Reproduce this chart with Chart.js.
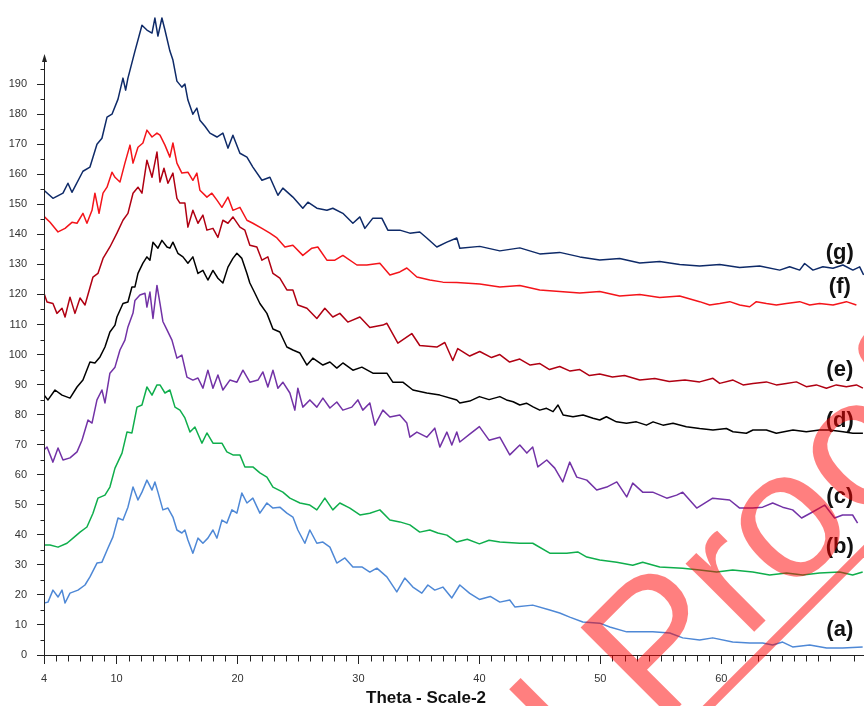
<!DOCTYPE html>
<html><head><meta charset="utf-8">
<script src="https://cdn.jsdelivr.net/npm/chart.js@4.4.1/dist/chart.umd.min.js"></script>
<style>html,body{margin:0;padding:0;background:#fff;overflow:hidden}canvas{display:block}</style>
</head><body>
<canvas id="c" width="864" height="706"></canvas>
<script>
// ---- data (2-theta, counts) ----
const thetaG = [4.0,4.74,5.57,5.98,6.31,7.22,7.80,8.38,8.79,9.21,9.62,10.12,10.53,10.75,10.94,11.52,12.10,12.51,12.93,13.17,13.42,13.75,14.0,14.41,14.66,14.99,15.40,15.65,15.90,16.31,16.64,16.89,17.31,17.72,18.30,18.79,19.21,19.62,20.20,20.78,21.27,22.02,22.68,23.34,23.75,24.58,25.40,25.82,26.56,27.39,27.88,28.71,29.54,30.12,30.53,31.19,31.93,32.43,33.42,34.25,35.07,35.65,36.48,37.31,38.13,38.38,40.03,41.69,43.34,44.99,46.64,48.3,49.95,51.6,53.26,54.91,56.56,58.21,59.87,61.52,63.17,64.83,65.65,66.48,66.89,67.58,68.4,69.23,70.06,70.88,71.44,71.77];
const countsG = [154.7,152,153.7,157,154,161,162.4,170,172,179,180,185,192,188,192,201,209.6,208,207,212,206,212,208,201,198,191,189,190,184.7,180,182,178,176,173.7,172.4,173.7,168.7,173,167,165.7,162.4,158,159,153,155.4,152.4,148.7,150.7,148.7,148,148.7,147,143.7,145.8,142,145.4,145.4,141.4,141.4,140.4,140.8,138.8,135.8,137.4,138.8,135.4,136,134.5,135.5,133.5,134,132.5,131.5,132,130.5,131,130,129.5,130,129,129.5,128.1,129.2,128.1,130.3,128.1,129.2,128.7,129.8,128.1,129.2,126.5];

const thetaF = [4.0,4.50,5.16,5.74,6.31,6.73,7.22,7.55,7.97,8.21,8.55,8.88,9.21,9.62,9.87,10.28,10.69,11.11,11.36,11.77,12.18,12.51,12.93,13.34,13.59,14.0,14.41,14.66,14.99,15.40,15.90,16.31,16.64,16.89,17.47,17.88,18.30,18.71,19.21,19.62,20.20,20.78,21.27,22.02,22.68,23.26,23.92,24.58,25.40,26.15,26.64,27.39,28.05,28.71,29.87,30.69,31.77,32.60,33.42,34.0,34.83,35.90,36.98,38.13,40.03,41.69,43.34,44.99,46.64,48.3,49.95,51.6,53.26,54.91,56.56,58.21,59.04,59.87,60.7,61.52,62.35,62.9,63.73,64.55,65.38,66.48,67.31,68.13,69.24,70.34,71.17];
const countsF = [146,144,140.8,142,144,143.7,147,143.7,148,153.7,147,153.7,155.7,160.7,159,157.4,163.7,169.7,163.7,169,170.4,174.7,172.4,173.7,173,169.7,165.7,170.4,163.7,160.4,160.7,158,160.4,154.7,152.4,153.7,151.4,149,152.4,148,149,144.7,143.7,142,140.4,138.8,135.8,136.4,133,135.4,135.8,131.4,131.4,133,129.8,129.8,130.4,126.5,127.5,128.8,125.8,124.8,124.1,124,123.5,122.5,123,121.5,121,120.5,121,119.5,120,119,119.5,117.6,116.5,117.0,117.6,116.5,115.9,117.6,117.0,116.5,117.0,117.6,116.5,117.0,116.5,117.6,116.5];

const thetaE = [4.0,4.25,4.74,5.07,5.49,5.74,6.15,6.56,6.98,7.39,8.05,8.46,8.88,9.45,10.03,10.53,10.94,11.36,11.77,12.10,12.51,12.93,13.34,13.59,13.92,14.25,14.66,14.99,15.24,15.65,15.90,16.31,16.73,17.14,17.47,17.97,18.38,18.79,19.21,19.62,20.20,20.61,21.02,21.60,22.02,22.51,22.93,23.50,24.08,24.58,24.99,25.74,26.56,27.22,27.88,28.46,29.12,30.12,30.94,32.02,32.35,33.26,34.41,35.07,36.48,37.14,37.80,38.21,39.2,40.03,41.0,41.69,42.5,43.34,44.2,45.0,45.8,46.64,47.5,48.3,49.1,49.95,51.0,52.0,53.26,54.5,55.7,57.0,58.21,59.31,59.87,60.97,61.8,62.62,63.73,64.55,65.38,66.21,67.03,67.86,68.69,69.51,70.34,71.17,71.71];
const countsE = [120.4,117.5,117,113.7,115.4,112.5,119.1,113.7,118.8,116.5,125.8,127,132,135.8,140.4,144.7,147,153.7,155.7,153.7,164.7,159,167.4,157.4,162,157,160.4,152,150.4,150.4,142.4,148,143.7,146.4,141.4,142,139,144.7,143.7,145.8,142.4,141.4,136.4,135.8,131.4,132.5,127,125.4,121.5,121.5,116.5,115.4,112,115.4,112.5,113.7,110.8,112.5,109,109.8,110.4,103.8,107,103,102.5,104,98,102,99.5,101,99,100,97.5,98.5,96.5,97,95,96,94.5,95,93,93.5,92.5,93,91.5,92,91,91.5,90.9,92.1,90.4,91.5,89.9,90.4,90.9,89.9,90.4,90.9,89.3,89.9,88.8,89.9,89.3,89.9,88.8];

const thetaD = [4.0,4.33,4.91,5.49,6.15,6.73,7.22,7.80,8.21,8.63,9.04,9.45,9.87,10.03,10.53,10.94,11.27,11.52,11.77,12.18,12.51,12.76,13.01,13.42,13.75,14.17,14.41,14.66,15.07,15.49,15.90,16.31,16.73,17.14,17.55,17.97,18.38,18.79,19.21,19.62,19.95,20.36,20.78,21.02,21.44,21.85,22.43,22.93,23.50,24.08,24.58,25.16,25.74,26.23,27.06,27.64,28.21,28.71,29.54,30.28,31.19,32.35,32.84,33.67,34.50,35.65,36.73,38.13,38.38,39.2,40.0,40.8,41.69,42.24,42.79,43.34,43.89,44.44,44.99,45.55,46.09,46.5,46.92,47.74,48.57,49.4,49.95,50.5,51.33,52.16,52.98,53.81,54.36,55.18,56.01,57.11,58.21,59.31,60.42,60.97,62.07,62.62,63.73,64.55,65.93,67.03,68.13,68.96,70.06,70.88,71.71];
const countsD = [86.5,84.9,88.2,86.5,85.5,89.2,91.5,97.5,97.2,99.2,102.5,107.5,109.8,112.5,117,117.5,122.5,122.5,127,130.4,132.5,131.4,137.4,135.4,138,135.8,135.4,137.4,133.7,132.5,130.4,132.5,127,128,124.8,128,125.4,123.8,129.1,132,133.7,132,127,123.8,120.4,117,113.7,108.5,107.5,102.5,101.5,100.5,96.5,98.8,96.5,97.5,95.5,97.2,94.8,95.8,93.8,93.8,90.8,90.8,88.2,87.2,86.5,84.9,83.9,84.5,86,85,86.0,84.9,84.3,83.2,83.8,82.6,81.5,82.1,81.0,83.2,79.9,79.3,79.9,78.8,78.2,79.3,77.6,77.1,77.6,76.5,77.6,76.5,77.1,76.0,75.4,74.9,75.4,74.3,73.8,74.9,74.9,73.8,74.9,74.3,74.9,74.9,74.3,73.8,73.8];

const thetaC = [4.0,4.25,4.74,5.16,5.57,6.15,6.73,7.14,7.64,7.97,8.38,8.79,9.04,9.45,9.87,10.28,10.69,10.94,11.36,11.52,11.93,12.35,12.51,12.76,13.01,13.34,13.59,13.83,14.17,14.58,14.99,15.40,15.82,16.31,16.73,17.14,17.55,17.97,18.38,18.79,19.37,19.95,20.45,21.02,21.69,22.10,22.51,22.93,23.34,23.75,24.33,24.74,24.99,25.40,25.98,26.56,27.06,27.64,28.21,28.71,29.45,29.95,30.36,30.94,31.36,32.02,32.60,33.42,34.0,34.25,34.83,35.65,36.31,36.73,37.31,37.72,38.13,38.38,39.2,40.0,40.8,41.69,42.51,43.34,43.92,44.41,44.83,45.57,46.23,46.89,47.47,48.05,48.88,49.70,50.53,51.36,52.18,52.68,53.50,54.33,55.49,56.31,56.81,57.97,59.29,60.69,61.52,62.60,63.42,64.25,65.07,65.90,66.64,67.55,68.55,69.37,70.03,70.86,71.27];
const countsC = [68.2,69.2,64.2,68.9,64.9,65.6,67.6,71.5,78.2,77.2,84.9,88.2,83.9,93.8,95.8,101.5,104.8,109.2,113.8,118,119.8,120.4,115.8,120.8,112,123,117,111,108.2,104.8,98.8,99.8,92.5,91.5,92.2,88.8,94.8,88.8,93.2,88.2,91.5,90.8,94.8,90.8,91.5,94.2,89.2,94.8,88.8,90.8,87.2,81.5,88.8,82.5,84.9,82.5,85.5,82.2,84.2,81.5,82.5,84.9,81.5,83.9,76.5,81.5,79.2,79.9,77.2,72.5,74.2,72.5,75.5,69.2,74.2,69.9,74.2,70.9,73.5,76,71.5,72.5,66.6,69.9,67.2,69.2,62.6,64.9,62.2,57.6,64.2,59.2,58.2,54.9,55.9,57.6,52.6,57.2,54.2,54.2,52.2,53.2,54.2,48.9,52.2,51.6,48.9,48.9,49.2,50.6,49.2,48.3,45.6,47.6,49.9,45.6,46.6,46.6,43.9];

const thetaB = [4.0,4.50,5.16,5.90,6.40,6.98,7.55,8.05,8.46,9.04,9.45,9.87,10.45,10.86,11.27,11.69,12.10,12.51,12.93,13.34,13.59,14.0,14.41,14.83,15.24,15.65,16.07,16.48,17.06,17.47,17.97,18.71,19.12,19.62,20.20,20.61,21.27,21.85,22.43,22.93,23.75,24.33,25.16,25.98,26.56,27.22,27.88,28.46,29.29,30.12,30.94,31.77,32.60,33.42,34.25,35.07,35.90,36.56,37.31,38.13,39.0,40.0,40.8,41.69,43.34,44.41,45.82,47.22,48.13,48.88,49.95,51.36,52.68,53.50,54.91,56.81,58.21,59.62,60.94,62.60,64.0,65.40,66.73,68.13,69.79,70.86,71.69];
const countsB = [36.6,36.6,35.9,37.2,38.9,40.9,42.6,47.2,52.2,53.2,55.9,62.2,67.2,74.2,73.9,82.5,83.2,89.2,86.5,89.9,89.9,87.2,88.2,82.5,81.5,78.9,74.2,75.9,70.5,73.9,70.5,70.5,67.6,66.6,66.6,62.6,62.6,60.6,59.2,55.9,54.2,52.2,50.6,49.9,48.3,52.2,48.3,50.6,48.9,46.6,47.2,48.3,44.9,44.3,43.3,40.9,41.6,40.6,39.9,37.6,38.5,37,38.2,37.6,37.2,37.2,33.9,33.9,34.3,32.6,31.6,30.9,29.9,30.9,29.3,28.9,28.3,27.6,28.3,27.6,26.6,27.3,26.6,27.3,27.6,26.6,27.6];

const thetaA = [4.0,4.33,4.74,5.16,5.49,5.74,6.15,6.81,7.39,7.80,8.38,8.79,9.29,9.70,10.12,10.53,10.94,11.36,11.77,12.10,12.51,12.93,13.17,13.42,13.83,14.25,14.66,14.99,15.40,15.65,15.90,16.31,16.73,17.14,17.55,17.97,18.30,18.71,19.12,19.54,19.95,20.36,20.78,21.27,21.85,22.43,22.93,23.50,24.08,24.58,24.99,25.57,25.98,26.56,27.06,27.64,28.21,28.88,29.54,30.28,30.94,31.52,32.35,33.17,33.83,34.50,35.24,35.74,36.31,36.98,37.72,38.38,39.2,40.0,40.9,41.69,42.51,42.93,44.41,45.82,46.64,47.47,48.55,49.95,50.78,52.18,53.26,54.33,55.74,56.81,58.21,59.29,60.94,62.35,63.42,64.25,65.07,65.90,67.31,68.71,70.03,71.69];
const countsA = [17.3,17.6,21.6,19.3,21.6,17.3,20.6,21.6,23.3,26,30.6,30.9,35.6,39.3,45.6,44.9,49.2,55.9,51.6,54.2,58.2,54.9,57.6,54.2,48.3,48.9,45.9,41.6,40.6,41.6,38.3,33.9,38.9,37.2,38.9,41.6,38.9,44.9,43.9,48.3,47.2,53.9,50.6,52.2,47.2,50.6,48.9,49.2,47.2,45.9,41.6,37.2,41.6,37.2,37.6,35.9,30.6,32.3,29.3,29.3,27.6,28.9,26,21,25.6,22.6,20.6,23.3,21.6,22.6,19,23.3,20.5,18.5,19.5,17.6,18.3,16,16.6,15,14,12.6,11,10.6,9.3,7.7,7.7,7.7,7.3,5.7,5,5.7,4.3,4,4,3.3,4.3,2.7,3.3,2.3,2.3,2.7];

const seriesNames = ['(a)','(b)','(c)','(d)','(e)','(f)','(g)'];
const labelTheta = 69.8;
const labelCounts = [8.3,35.9,52.6,77.9,94.8,122.5,133.8];
const xTickValues = [4,10,20,30,40,50,60];
const yTickValues = [0,10,20,30,40,50,60,70,80,90,100,110,120,130,140,150,160,170,180,190];
const xAxisTitle = 'Theta - Scale-2';
const watermarkLead = 'Journal ';
const watermarkText = 'Proof';

// ---- styles ----
const colors = ['#4e88d6','#0fae4c','#7232a6','#000000','#b00012','#f4141a','#0e2a68'];
const thetas = [thetaA,thetaB,thetaC,thetaD,thetaE,thetaF,thetaG];
const counts = [countsA,countsB,countsC,countsD,countsE,countsF,countsG];

const datasets = seriesNames.map((n,i)=>({
  label:n,
  data: thetas[i].map((t,j)=>({x:t,y:counts[i][j]})),
  borderColor: colors[i], borderWidth: 1.5, pointRadius: 0, tension: 0,
  fill:false, borderJoinStyle:'round'
}));

const FONT = '"Liberation Sans", Arial, sans-serif';

const extras = {
  id:'extras',
  afterDatasetsDraw(chart){
    const {ctx, scales:{x,y}} = chart;
    ctx.save();
    ctx.strokeStyle = '#222'; ctx.lineWidth = 1;
    const ax = Math.round(x.getPixelForValue(4)) + 0.5;
    const yTop = y.getPixelForValue(199);
    ctx.beginPath(); ctx.moveTo(ax, y.getPixelForValue(0)); ctx.lineTo(ax, yTop); ctx.stroke();
    ctx.fillStyle = '#222';
    ctx.beginPath(); ctx.moveTo(ax, yTop-3); ctx.lineTo(ax-2.5, yTop+5); ctx.lineTo(ax+2.5, yTop+5); ctx.closePath(); ctx.fill();
    ctx.beginPath();
    for (let v=5; v<=195; v+=10){ const py=Math.round(y.getPixelForValue(v))+0.5; ctx.moveTo(ax,py); ctx.lineTo(ax-4,py); }
    const bx = Math.round(y.getPixelForValue(0))+0.5;
    for (let v=5; v<=71; v++){ if (v%10===0) continue; const px=Math.round(x.getPixelForValue(v))+0.5; ctx.moveTo(px,bx); ctx.lineTo(px,bx+6); }
    ctx.stroke();
    ctx.fillStyle = '#111';
    ctx.font = 'bold 22px ' + FONT;
    ctx.textAlign = 'center'; ctx.textBaseline = 'middle';
    seriesNames.forEach((n,i)=>{ ctx.fillText(n, x.getPixelForValue(labelTheta), y.getPixelForValue(labelCounts[i])); });
    ctx.font = 'bold 17px ' + FONT;
    ctx.textBaseline = 'alphabetic';
    ctx.fillText(xAxisTitle, chart.chartArea.left + 382, 703);
    ctx.restore();
  },
  afterDraw(chart){
    const ctx = chart.ctx;
    ctx.save();
    ctx.translate(676, 710);
    ctx.rotate(-Math.PI/4);
    ctx.fillStyle = 'rgba(255,0,0,0.5)';
    ctx.font = '183px ' + FONT;
    ctx.textBaseline = 'alphabetic';
    ctx.textAlign = 'right';
    ctx.fillText(watermarkLead, -24, 0);
    ctx.textAlign = 'left';
    ctx.fillText(watermarkText, -24, 0);
    ctx.fillRect(-700, 16, 1300, 9);
    ctx.restore();
  }
};

new Chart(document.getElementById('c'), {
  type:'line',
  data:{datasets},
  plugins:[extras],
  options:{
    responsive:false, devicePixelRatio:1, animation:false,
    layout:{padding:0},
    plugins:{legend:{display:false}, tooltip:{enabled:false}},
    scales:{
      x:{
        type:'linear', min:4, max:71.8, position:'bottom',
        afterBuildTicks: s => { s.ticks = xTickValues.map(v=>({value:v})); },
        afterFit: s => { s.height = 51; s.paddingLeft = 0; s.paddingRight = 0; },
        ticks:{ font:{family:FONT, size:11}, color:'#333', padding:8, maxRotation:0, autoSkip:false,
          callback: v => String(v) },
        grid:{ drawOnChartArea:false, drawTicks:true, tickLength:9, tickColor:'#222', tickWidth:1 },
        border:{ display:true, color:'#222', width:1 }
      },
      y:{
        type:'linear', min:0, max:218,
        afterBuildTicks: s => { s.ticks = yTickValues.map(v=>({value:v})); },
        afterFit: s => { s.width = 44; s.paddingTop = 0; s.paddingBottom = 0; },
        ticks:{ font:{family:FONT, size:11}, color:'#333', padding:10, autoSkip:false,
          callback: v => String(v) },
        grid:{ drawOnChartArea:false, drawTicks:true, tickLength:7, tickColor:'#222', tickWidth:1 },
        border:{ display:false }
      }
    }
  }
});
</script>
</body></html>
